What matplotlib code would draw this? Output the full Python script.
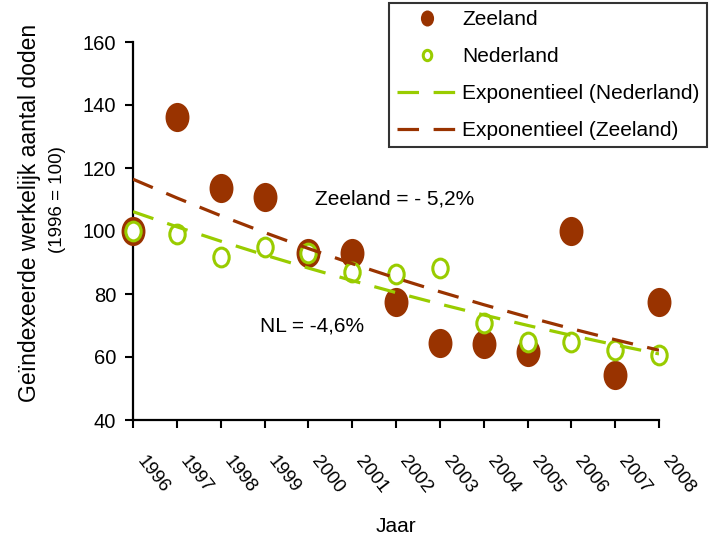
import numpy as np
import matplotlib
matplotlib.use('Agg')
import matplotlib.pyplot as plt
from matplotlib.path import Path
from matplotlib.markers import MarkerStyle
from matplotlib.transforms import ScaledTranslation

plt.rcParams['font.family'] = ['Liberation Sans', 'DejaVu Sans']
plt.rcParams['lines.scale_dashes'] = False

# --- data: geïndexeerd aantal doden (1996 = 100) ---
jaren = [1996, 1997, 1998, 1999, 2000, 2001, 2002, 2003, 2004, 2005, 2006, 2007, 2008]
zeeland = [100, 136.3, 113.5, 110.7, 93, 93, 77.4, 64.4, 64, 61.5, 100, 54.3, 77.4]
nederland = [100, 99.2, 91.6, 94.8, 92.9, 86.9, 86.3, 88.3, 70.7, 64.7, 64.7, 62.2, 60.6]
y_ticks = [40, 60, 80, 100, 120, 140, 160]

bruin = '#993300'
groen = '#99CC00'

# exponentiële trendlijnen (kleinste kwadraten op log-waarden)
t = np.array(jaren, dtype=float)
def exp_trend(waarden):
    b, a = np.polyfit(t - t[0], np.log(waarden), 1)
    return np.exp(a + b * (t - t[0]))

trend_z = exp_trend(zeeland)
trend_nl = exp_trend(nederland)

# iets ovale markers
cirkel = Path.unit_circle()
ovaal = Path(cirkel.vertices * [0.82, 1.0], cirkel.codes)
marker = MarkerStyle(ovaal)

fig = plt.figure(figsize=(7.13, 5.43), dpi=100)
ax = fig.add_axes([133 / 713, 1 - 420 / 543, (659 - 133) / 713, (420 - 42) / 543])

ax.plot(jaren, zeeland, linestyle='none', marker=marker, markersize=21,
        markerfacecolor=bruin, markeredgecolor=bruin, markeredgewidth=0,
        label='Zeeland', clip_on=False, zorder=3)
ax.plot(jaren, nederland, linestyle='none', marker=marker, markersize=13.5,
        markerfacecolor='white', markeredgecolor=groen, markeredgewidth=2.2,
        label='Nederland', clip_on=False, zorder=4)
ax.plot(jaren, trend_nl, color=groen, linewidth=2.3, dashes=(15.5, 10.5),
        label='Exponentieel (Nederland)', zorder=5)
ax.plot(jaren, trend_z, color=bruin, linewidth=2.3, dashes=(15.5, 10.5),
        label='Exponentieel (Zeeland)', zorder=6)

ax.set_xlim(jaren[0], jaren[-1])
ax.set_ylim(y_ticks[0], y_ticks[-1])
ax.set_yticks(y_ticks)
ax.set_xticks(jaren)
ax.set_xticklabels([str(j) for j in jaren], rotation=-52, ha='left', va='top',
                   fontsize=13.5)
for lbl in ax.get_xticklabels():
    lbl.set_transform(lbl.get_transform() + ScaledTranslation(13 / 100, 0, fig.dpi_scale_trans))
ax.tick_params(axis='x', length=6, width=1.5, pad=18, direction='out')
ax.tick_params(axis='y', length=6, width=1.5, pad=6, direction='out', labelsize=14.5)

for s in ['top', 'right']:
    ax.spines[s].set_visible(False)
for s in ['left', 'bottom']:
    ax.spines[s].set_linewidth(1.6)

ax.set_xlabel('Jaar', fontsize=15)
ax.xaxis.set_label_coords(0.5, -0.256)

# as-titel in twee regels
fig.text(30 / 713, 1 - 213 / 543, 'Geïndexeerde werkelijk aantal doden',
         rotation=90, ha='center', va='center', fontsize=16.5)
fig.text(58 / 713, 1 - 200 / 543, '(1996 = 100)',
         rotation=90, ha='center', va='center', fontsize=13.5)

ax.text(2000.15, 110.2, 'Zeeland = - 5,2%', fontsize=15, va='center', ha='left')
ax.text(1998.9, 70, 'NL = -4,6%', fontsize=15, va='center', ha='left')

leg = fig.legend(loc='upper right', bbox_to_anchor=(707 / 713, 1 - 3 / 543),
                 fontsize=15, frameon=True, fancybox=False, borderaxespad=0,
                 handlelength=2.9, handletextpad=0.25, labelspacing=0.86,
                 borderpad=0.35, markerscale=0.55)
leg.get_frame().set_edgecolor('black')
leg.get_frame().set_linewidth(1.5)

fig.savefig('out.png', dpi=100)
